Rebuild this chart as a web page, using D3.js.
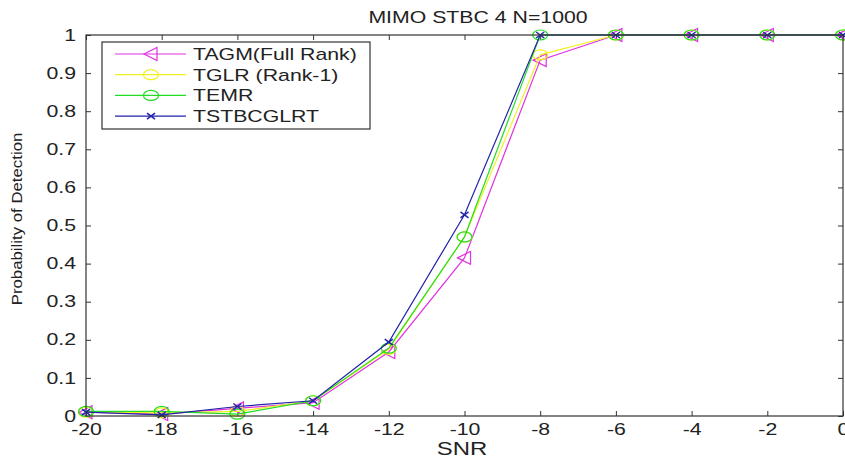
<!DOCTYPE html>
<html>
<head>
<meta charset="utf-8">
<script src="https://cdn.jsdelivr.net/npm/d3@7"></script>
<style>
  body { margin: 0; background: #fff; }
  text { font-family: "Liberation Sans", Arial, sans-serif; fill: #222; }
</style>
</head>
<body>
<svg width="845" height="457"></svg>
<script>
// data
const snr = [-20, -18, -16, -14, -12, -10, -8, -6, -4, -2, 0];
const tagm = [0.01, 0.005, 0.02, 0.035, 0.168, 0.415, 0.934, 1, 1, 1, 1];
const tglr = [0.01, 0.008, 0.012, 0.04, 0.175, 0.47, 0.948, 1, 1, 1, 1];
const temr = [0.012, 0.012, 0.005, 0.04, 0.178, 0.47, 1, 1, 1, 1, 1];
const tstbc = [0.01, 0.003, 0.025, 0.04, 0.194, 0.528, 1, 1, 1, 1, 1];
const xTicks = [-20, -18, -16, -14, -12, -10, -8, -6, -4, -2, 0];
const yTicks = [0, 0.1, 0.2, 0.3, 0.4, 0.5, 0.6, 0.7, 0.8, 0.9, 1];

const series = [
    {name: "TAGM(Full Rank)", values: tagm, color: "#e033e0", marker: "triangle"},
    {name: "TGLR (Rank-1)", values: tglr, color: "#f2f020", marker: "circle"},
    {name: "TEMR", values: temr, color: "#22dd22", marker: "circle"},
    {name: "TSTBCGLRT", values: tstbc, color: "#2222aa", marker: "cross"}
];

const svg = d3.select("svg");
const plotL = 86, plotR = 843, plotT = 35, plotB = 416;
const sx = 1.33; // the picture's text is stretched sideways

const x = d3.scaleLinear().domain([-20, 0]).range([plotL, plotR]);
const y = d3.scaleLinear().domain([0, 1]).range([plotB, plotT]);

// axes box with inward ticks on all four sides
svg.append("g")
    .attr("transform", `translate(0,${plotB})`)
    .call(d3.axisBottom(x).tickValues(xTicks).tickSizeInner(-5).tickSizeOuter(0).tickPadding(8)
        .tickFormat(d => d))
    .call(g => g.select(".domain").remove())
    .call(g => g.selectAll("text").attr("font-size", 16).attr("font-family", "Liberation Sans")
        .attr("fill", "#222").attr("transform", `scale(${sx},1)`));

svg.append("g")
    .attr("transform", `translate(${plotL},0)`)
    .call(d3.axisLeft(y).tickValues(yTicks).tickSizeInner(-5).tickSizeOuter(0).tickPadding(7.5)
        .tickFormat(d => d))
    .call(g => g.select(".domain").remove())
    .call(g => g.selectAll("text").attr("font-size", 16).attr("font-family", "Liberation Sans")
        .attr("fill", "#222").attr("transform", `scale(${sx},1)`));

svg.append("g")
    .attr("transform", `translate(0,${plotT})`)
    .call(d3.axisTop(x).tickValues(xTicks).tickSizeInner(-5).tickSizeOuter(0).tickFormat(""))
    .call(g => g.select(".domain").remove());

svg.append("g")
    .attr("transform", `translate(${plotR},0)`)
    .call(d3.axisRight(y).tickValues(yTicks).tickSizeInner(-5).tickSizeOuter(0).tickFormat(""))
    .call(g => g.select(".domain").remove());

svg.selectAll(".tick line").attr("stroke", "#333");

const line = d3.line().x((d, i) => x(snr[i])).y(d => y(d));

function drawMarker(g, type, color, cx, cy) {
    if (type === "triangle") {
        g.append("path")
            .attr("d", `M${cx - 7},${cy} L${cx + 6},${cy - 6.5} L${cx + 6},${cy + 6.5} Z`)
            .attr("fill", "none").attr("stroke", color).attr("stroke-width", 1.2);
    } else if (type === "circle") {
        g.append("ellipse")
            .attr("cx", cx).attr("cy", cy).attr("rx", 7.5).attr("ry", 5)
            .attr("fill", "none").attr("stroke", color).attr("stroke-width", 1.2);
    } else {
        g.append("path")
            .attr("d", `M${cx - 4},${cy - 3} L${cx + 4},${cy + 3} M${cx - 4},${cy + 3} L${cx + 4},${cy - 3}`)
            .attr("stroke", color).attr("stroke-width", 1.5);
    }
}

const plot = svg.append("g");
series.forEach(s => {
    plot.append("path")
        .datum(s.values)
        .attr("d", line)
        .attr("fill", "none")
        .attr("stroke", s.color)
        .attr("stroke-width", 1.2);
    const mg = plot.append("g");
    s.values.forEach((v, i) => drawMarker(mg, s.marker, s.color, x(snr[i]), y(v)));
});

// frame
svg.append("rect")
    .attr("x", plotL).attr("y", plotT)
    .attr("width", plotR - plotL).attr("height", plotB - plotT)
    .attr("fill", "none").attr("stroke", "#333").attr("stroke-width", 1.2);

// stretched text helper
function label(px, py, str, size, anchor, scale, rotate) {
    return svg.append("text")
        .attr("transform", `translate(${px},${py}) rotate(${rotate || 0}) scale(${scale},1)`)
        .attr("text-anchor", anchor)
        .attr("font-size", size)
        .text(str);
}

// title and labels
label(478, 23, "MIMO STBC 4 N=1000", 16, "middle", sx);
label(462, 455, "SNR", 18, "middle", sx);
label(22, 219, "Probability of Detection", 14, "middle", 1.2, -90);

// legend
const legend = svg.append("g");
legend.append("rect")
    .attr("x", 102).attr("y", 42).attr("width", 268).attr("height", 87)
    .attr("fill", "#fff").attr("stroke", "#333").attr("stroke-width", 1.2);

series.forEach((s, i) => {
    const ly = 54 + i * 20.7;
    legend.append("line")
        .attr("x1", 115).attr("x2", 186).attr("y1", ly).attr("y2", ly)
        .attr("stroke", s.color).attr("stroke-width", 1.2);
    drawMarker(legend, s.marker, s.color, 151, ly);
    legend.append("text")
        .attr("transform", `translate(193,${ly + 6}) scale(${sx},1)`)
        .attr("font-size", 16)
        .text(s.name);
});
</script>
</body>
</html>
